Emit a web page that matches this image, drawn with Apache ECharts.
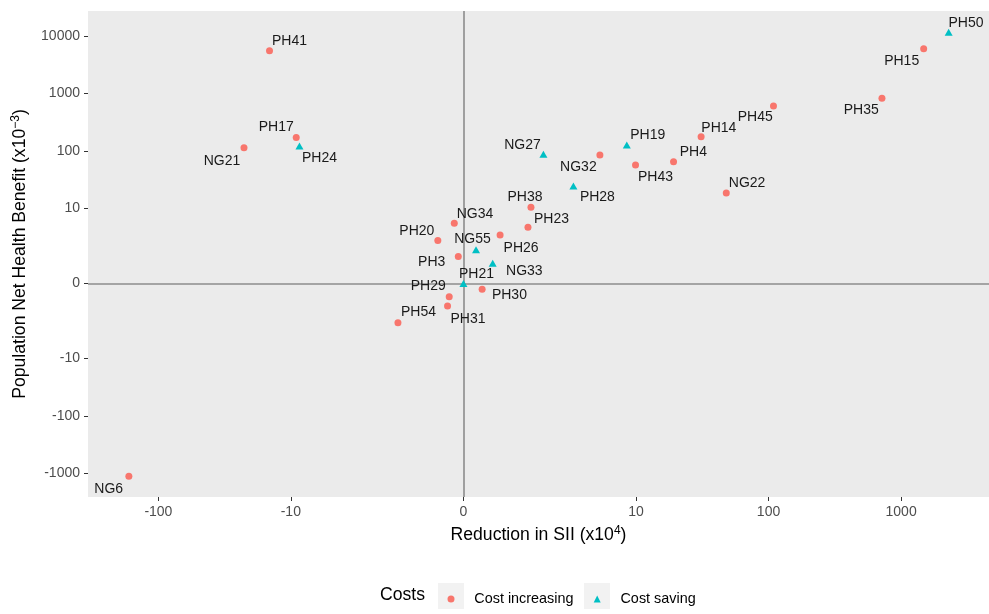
<!DOCTYPE html>
<html><head><meta charset="utf-8">
<script src="https://cdn.jsdelivr.net/npm/echarts@6/dist/echarts.min.js"></script>
<style>html,body{margin:0;padding:0;background:#fff}#chart{width:989px;height:614px}</style>
</head><body><div id="chart"></div>
<script>
// ---- data (original units) ----
const increasingNames = ['PH41','PH17','NG21','NG32','PH43','PH38','PH23','NG34','PH20','PH26','PH3','PH30','PH29','PH31','PH54','PH15','PH35','PH45','PH14','PH4','NG22','NG6'];
const increasingX = [-14.5, -9.1, -22.6, 5.3, 9.9, 1.46, 1.37, -0.16, -0.46, 0.68, -0.09, 0.33, -0.25, -0.28, -1.4, 1480, 717, 109, 31, 19.2, 48, -167];
const increasingY = [5500, 172, 114, 85, 57, 10.5, 4.7, 5.5, 2.7, 3.4, 1.3, -0.23, -0.55, -1.03, -2.3, 5960, 821, 603, 177, 65, 18.6, -1112];

const savingNames = ['PH24','NG27','PH19','PH28','NG55','NG33','PH21','PH50'];
const savingX = [-8.6, 1.88, 8.5, 3.3, 0.22, 0.53, 0, 2284];
const savingY = [122, 87.5, 127, 24.6, 1.8, 0.9, 0, 11490];

const xTickValues = [-100, -10, 0, 10, 100, 1000];
const xTickLabels = ['-100', '-10', '0', '10', '100', '1000'];
const yTickValues = [-1000, -100, -10, 0, 10, 100, 1000, 10000];
const yTickLabels = ['-1000', '-100', '-10', '0', '10', '100', '1000', '10000'];

const seriesNames = ['Cost increasing', 'Cost saving'];
const legendTitle = 'Costs';

// label placement (pixel offsets from point centre) - layout only
const labelOffsets = {
  PH41:[20,-10], PH17:[-20,-10], NG21:[-22,13.5], PH24:[20,12], NG27:[-21,-9], NG32:[-21.5,12.5],
  PH19:[21,-10], PH43:[20,12], PH28:[24,11], PH38:[-6,-10], PH23:[23.5,-8], NG34:[20.7,-9.6],
  PH20:[-21,-9.7], PH26:[21,12.7], NG55:[-3.5,-10.4], PH3:[-26.6,6], NG33:[31.6,7.7], PH21:[13,-9],
  PH30:[27.3,6.4], PH29:[-21,-10], PH31:[20.5,12.7], PH54:[20.6,-10.4], PH50:[17.3,-9], PH15:[-22,12],
  PH35:[-20.7,12], PH45:[-18.3,10.7], PH14:[17.7,-8.4], PH4:[19.8,-9.4], NG22:[20.8,-10], NG6:[-20.2,12.4]
};

// pseudo-log transform (asinh based, base 10)
function ps(v) { return Math.asinh(v) / Math.LN10; }
function tickFormatter(vals, labels) {
  return function (value) {
    for (let i = 0; i < vals.length; i++) {
      if (Math.abs(ps(vals[i]) - value) < 1e-4) return labels[i];
    }
    return '';
  };
}

const FONT = '"Liberation Sans", Arial, Helvetica, sans-serif';

function buildData(names, xs, ys) {
  return names.map((n, i) => ({
    name: n,
    value: [ps(xs[i]), ps(ys[i])],
    label: { offset: labelOffsets[n] || [0, -10] }
  }));
}

const pointLabel = {
  show: true, position: 'inside', formatter: '{b}',
  color: '#1A1A1A', fontSize: 14, fontFamily: FONT,
  textBorderWidth: 0
};

const chart = echarts.init(document.getElementById('chart'), null, { renderer: 'canvas' });
chart.setOption({
  animation: false,
  backgroundColor: '#FFFFFF',
  textStyle: { fontFamily: FONT },
  grid: {
    left: 88, right: 0, top: 11, bottom: 117,
    show: true, backgroundColor: '#EBEBEB', borderWidth: 0,
    containLabel: false, outerBoundsMode: 'none'
  },
  title: {
    text: legendTitle, left: 380, top: 586, padding: 0,
    textStyle: { fontSize: 17.6, fontWeight: 'normal', color: '#000', fontFamily: FONT }
  },
  legend: {
    left: 447.5, top: 592, padding: 0, orient: 'horizontal',
    itemWidth: 7, itemHeight: 7, itemGap: 20.2, selectedMode: false,
    data: [{ name: seriesNames[0], icon: 'circle' }, { name: seriesNames[1], icon: 'triangle' }],
    formatter: '{sp|}{t|{name}}',
    textStyle: {
      fontSize: 14.4, color: '#000', fontFamily: FONT,
      rich: { sp: { width: 14.8 }, t: { fontSize: 14.4, color: '#000', fontFamily: FONT } }
    }
  },
  graphic: [
    { type: 'rect', z: -1, shape: { x: 438, y: 583, width: 26, height: 26 }, style: { fill: '#F2F2F2' } },
    { type: 'rect', z: -1, shape: { x: 584, y: 583, width: 26, height: 26 }, style: { fill: '#F2F2F2' } }
  ],
  xAxis: {
    type: 'value', min: -2.832, max: 3.964,
    name: '{a|Reduction in SII (x10}{s|4}{a|)}',
    nameLocation: 'middle', nameGap: 28,
    nameTextStyle: {
      rich: {
        a: { fontSize: 17.6, color: '#000', fontFamily: FONT, lineHeight: 20 },
        s: { fontSize: 12, color: '#000', fontFamily: FONT, lineHeight: 12, verticalAlign: 'top' }
      }
    },
    axisLine: { show: false, onZero: false },
    splitLine: { show: false },
    axisTick: { show: true, length: 4, lineStyle: { color: '#333333', width: 1 }, customValues: xTickValues.map(ps) },
    axisLabel: {
      customValues: xTickValues.map(ps), formatter: tickFormatter(xTickValues, xTickLabels),
      color: '#4D4D4D', fontSize: 14, fontFamily: FONT, margin: 8
    }
  },
  yAxis: {
    type: 'value', min: -3.707, max: 4.731,
    name: '{a|Population Net Health Benefit (x10}{s|\u22123}{a|)}',
    nameLocation: 'middle', nameGap: 58, nameRotate: 90,
    nameTextStyle: {
      rich: {
        a: { fontSize: 17.6, color: '#000', fontFamily: FONT, lineHeight: 20 },
        s: { fontSize: 12, color: '#000', fontFamily: FONT, lineHeight: 12, verticalAlign: 'top' }
      }
    },
    axisLine: { show: false, onZero: false },
    splitLine: { show: false },
    axisTick: { show: true, length: 4, lineStyle: { color: '#333333', width: 1 }, customValues: yTickValues.map(ps) },
    axisLabel: {
      customValues: yTickValues.map(ps), formatter: tickFormatter(yTickValues, yTickLabels),
      color: '#4D4D4D', fontSize: 14, fontFamily: FONT, margin: 8
    }
  },
  series: [
    {
      name: 'ref', type: 'scatter', data: [], z: 1, silent: true,
      markLine: {
        z: 1, silent: true, symbol: ['none', 'none'], animation: false,
        label: { show: false },
        lineStyle: { type: 'solid', color: '#8C8C8C', width: 1.6 },
        data: [{ xAxis: ps(0) }, { yAxis: ps(0) }]
      }
    },
    {
      name: seriesNames[0], type: 'scatter', z: 3,
      symbol: 'circle', symbolSize: 7,
      itemStyle: { color: '#F8766D', opacity: 1 },
      label: pointLabel,
      data: buildData(increasingNames, increasingX, increasingY)
    },
    {
      name: seriesNames[1], type: 'scatter', z: 3,
      symbol: 'triangle', symbolSize: [8, 7],
      itemStyle: { color: '#00BFC4', opacity: 1 },
      label: pointLabel,
      data: buildData(savingNames, savingX, savingY)
    }
  ]
});
</script>
</body></html>
